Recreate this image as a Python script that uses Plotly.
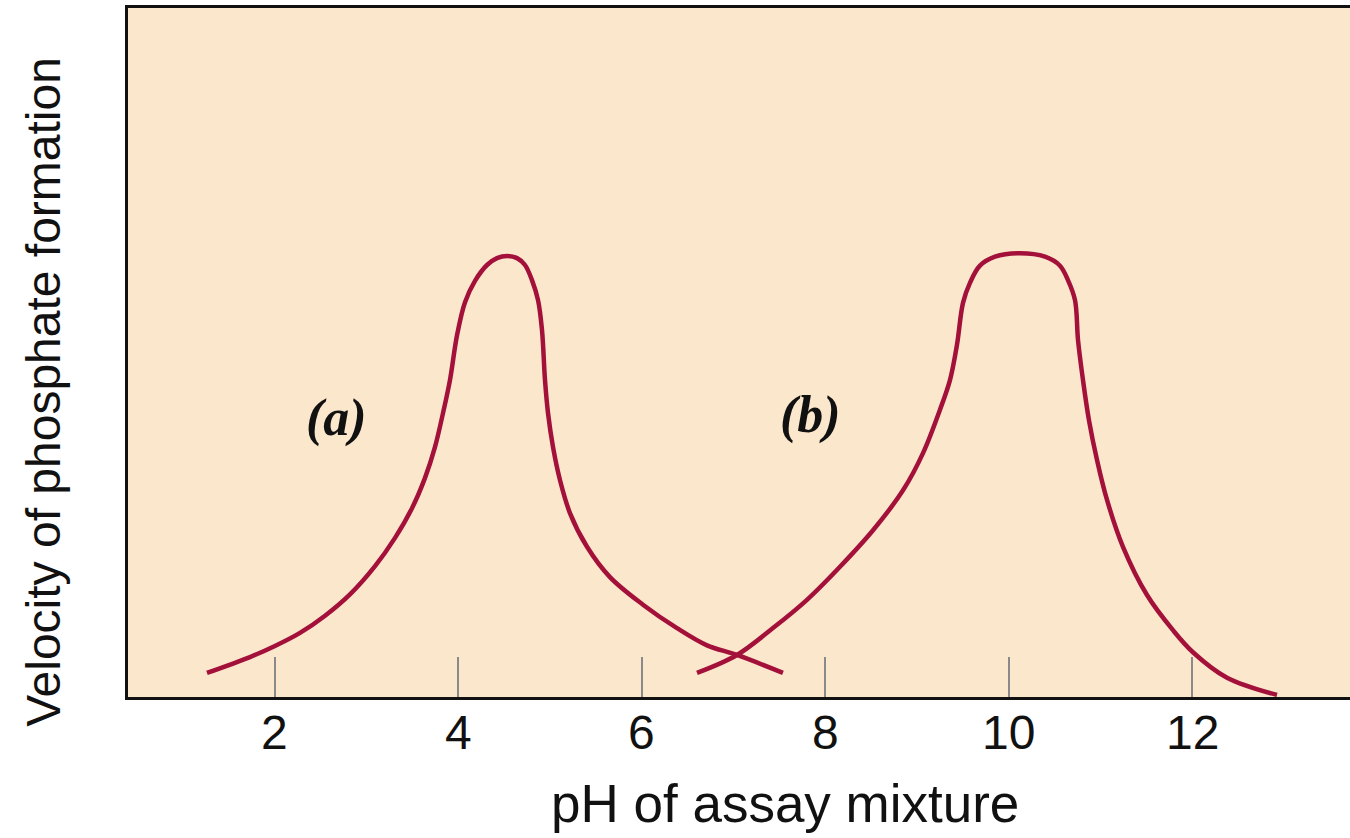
import plotly.graph_objects as go

# ---- data ----
ph_a = [1.259, 1.728, 2.000, 2.273, 2.546, 2.818, 3.091, 3.309, 3.494, 3.636, 3.745, 3.832,
        3.908, 3.985, 4.072, 4.181, 4.312, 4.421, 4.530, 4.639, 4.726, 4.802, 4.868, 4.911,
        4.944, 4.977, 5.031, 5.107, 5.216, 5.402, 5.652, 6.012, 6.383, 6.710, 7.037, 7.538]
vel_a = [0.035, 0.058, 0.074, 0.093, 0.118, 0.149, 0.190, 0.231, 0.274, 0.318, 0.363, 0.412,
         0.460, 0.525, 0.573, 0.604, 0.627, 0.637, 0.640, 0.637, 0.627, 0.605, 0.576, 0.533,
         0.460, 0.412, 0.363, 0.315, 0.267, 0.218, 0.174, 0.134, 0.100, 0.075, 0.061, 0.035]

ph_b = [6.601, 7.037, 7.429, 7.800, 8.160, 8.520, 8.847, 9.065, 9.250, 9.359, 9.435, 9.501,
        9.577, 9.686, 9.850, 10.122, 10.395, 10.558, 10.645, 10.722, 10.755, 10.809, 10.874,
        10.962, 11.071, 11.245, 11.507, 11.790, 12.008, 12.379, 12.924]
vel_b = [0.035, 0.061, 0.100, 0.141, 0.189, 0.242, 0.300, 0.354, 0.417, 0.460, 0.511, 0.572,
         0.601, 0.626, 0.639, 0.644, 0.639, 0.626, 0.605, 0.576, 0.518, 0.460, 0.402,
         0.344, 0.286, 0.218, 0.148, 0.097, 0.065, 0.028, 0.003]

tick_vals = [2, 4, 6, 8, 10, 12]
tick_text = ["2", "4", "6", "8", "10", "12"]

curve_labels = ["(a)", "(b)"]
label_ph = [2.676, 7.833]
label_vel = [0.405, 0.409]

x_title = "pH of assay mixture"
y_title = "Velocity of phosphate formation"

# ---- figure ----
line_color = "#A3103A"
text_color = "#111111"
fig = go.Figure()
for xs, ys in [(ph_a, vel_a), (ph_b, vel_b)]:
    fig.add_trace(go.Scatter(x=xs, y=ys, mode="lines",
                             line=dict(color=line_color, width=4.5, shape="spline", smoothing=1.0),
                             hoverinfo="skip", showlegend=False))

for t, xv, yv in zip(curve_labels, label_ph, label_vel):
    fig.add_annotation(x=xv, y=yv, xref="x", yref="y", text="<b><i>" + t + "</i></b>",
                       showarrow=False,
                       font=dict(family="Liberation Serif", size=52, color=text_color))

# tick labels placed on the x scale
for tv, tt in zip(tick_vals, tick_text):
    fig.add_annotation(x=tv, y=-0.051, xref="x", yref="paper", text=tt,
                       showarrow=False, xanchor="center", yanchor="middle",
                       font=dict(family="Liberation Sans", size=48, color=text_color))

fig.add_annotation(x=0.5376, y=-0.155, xref="paper", yref="paper", text=x_title,
                   showarrow=False, xanchor="center", yanchor="middle",
                   font=dict(family="Liberation Sans", size=53, color=text_color))
fig.add_annotation(x=-0.0687, y=0.443, xref="paper", yref="paper", text=y_title,
                   showarrow=False, textangle=-90, xanchor="center", yanchor="middle",
                   font=dict(family="Liberation Sans", size=48, color=text_color))

fig.update_layout(
    width=1350, height=838,
    margin=dict(l=128, r=0, t=8, b=141),
    paper_bgcolor="white",
    plot_bgcolor="#FBE7CC",
    xaxis=dict(range=[0.398, 13.72], tickvals=tick_vals, showticklabels=False,
               ticks="inside", ticklen=40, tickwidth=2, tickcolor="#8a8a8a",
               showgrid=False, zeroline=False, showline=True, linecolor="#111111",
               linewidth=3, mirror=True),
    yaxis=dict(range=[0, 1], showticklabels=False, ticks="", showgrid=False,
               zeroline=False, showline=True, linecolor="#111111", linewidth=3),
)

fig.write_html("out.html", config={"displayModeBar": False},
               post_script="document.body.style.margin='0';document.body.style.overflow='hidden';")
